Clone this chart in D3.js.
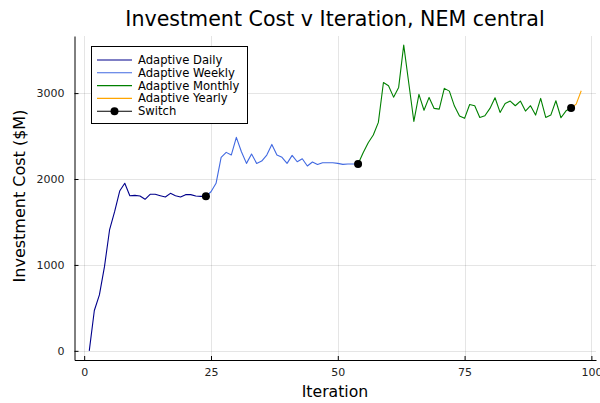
<!DOCTYPE html>
<html>
<head>
<meta charset="utf-8">
<script src="https://cdn.jsdelivr.net/npm/d3@7"></script>
<style>
  html, body { margin: 0; padding: 0; background: #fff; }
  svg { display: block; font-family: "DejaVu Sans", sans-serif; }
</style>
</head>
<body>
<svg id="chart" width="600" height="403"></svg>
<script>
// Investment cost ($M) per iteration, iterations 1..98
const iterations = d3.range(1, 99);
const cost = [
  0, 469, 651, 980, 1407, 1620, 1860, 1950, 1806, 1810,
  1802, 1764, 1822, 1822, 1806, 1790, 1833, 1806, 1790, 1818,
  1818, 1802, 1798, 1798, 1852, 1950, 2252, 2310, 2279, 2485,
  2317, 2182, 2290, 2182, 2209, 2279, 2403, 2279, 2252, 2182,
  2275, 2201, 2236, 2151, 2198, 2170, 2190, 2190, 2190, 2182,
  2170, 2174, 2174, 2174, 2306, 2422, 2512, 2659, 3124, 3085,
  2953, 3066, 3558, 3115, 2670, 2986, 2800, 2950, 2822, 2814,
  3055, 3023, 2849, 2733, 2706, 2868, 2853, 2717, 2736, 2822,
  2946, 2775, 2880, 2907, 2853, 2907, 2791, 2853, 2744, 2938,
  2717, 2744, 2911, 2713, 2794, 2826, 2872, 3027
];

// Adaptive phases: name, first and last iteration, colour
const phaseNames  = ["Adaptive Daily", "Adaptive Weekly", "Adaptive Monthly", "Adaptive Yearly"];
const phaseStart  = [1, 24, 54, 96];
const phaseEnd    = [24, 54, 96, 98];
const phaseColors = ["#00008b", "#4169e1", "#008000", "#ffa500"];

// Iterations at which the resolution was switched
const switchIters = [24, 54, 96];

const xTicks = [0, 25, 50, 75, 100];
const yTicks = [0, 1000, 2000, 3000];

const svg = d3.select("#chart");
const plotLeft = 74.5, plotRight = 596, plotTop = 36, plotBottom = 360;

const xMin = 1, xMax = 98;
const xPad = (xMax - xMin) * 0.03;
const x = d3.scaleLinear().domain([xMin - xPad, xMax + xPad]).range([plotLeft, plotRight]);

const yMin = d3.min(cost), yMax = d3.max(cost);
const yPad = (yMax - yMin) * 0.03;
const y = d3.scaleLinear().domain([yMin - yPad, yMax + yPad]).range([plotBottom, plotTop]);

// grid
const grid = svg.append("g").attr("stroke", "#000").attr("stroke-opacity", 0.1).attr("stroke-width", 1);
xTicks.forEach(t => grid.append("line")
  .attr("x1", Math.round(x(t)) + 0.5).attr("x2", Math.round(x(t)) + 0.5)
  .attr("y1", plotTop).attr("y2", plotBottom));
yTicks.forEach(t => grid.append("line")
  .attr("x1", plotLeft).attr("x2", plotRight)
  .attr("y1", Math.round(y(t)) + 0.5).attr("y2", Math.round(y(t)) + 0.5));

// axes with inward ticks
const xAxis = d3.axisBottom(x).tickValues(xTicks).tickFormat(d3.format("d"))
  .tickSizeInner(-4).tickSizeOuter(0).tickPadding(8);
const yAxis = d3.axisLeft(y).tickValues(yTicks).tickFormat(d3.format("d"))
  .tickSizeInner(-4).tickSizeOuter(0).tickPadding(10);

const gx = svg.append("g").attr("transform", `translate(0,${plotBottom})`).call(xAxis);
const gy = svg.append("g").attr("transform", `translate(${plotLeft},0)`).call(yAxis);
[gx, gy].forEach(g => {
  g.select(".domain").attr("stroke", "#000").attr("stroke-width", 1);
  g.selectAll(".tick line").attr("stroke", "#000");
  g.selectAll(".tick text").attr("font-size", 11).attr("fill", "#222")
    .attr("font-family", "DejaVu Sans, sans-serif");
});

// phase lines
const line = d3.line().x(d => x(d[0])).y(d => y(d[1]));
phaseNames.forEach((name, i) => {
  const pts = iterations
    .map((it, k) => [it, cost[k]])
    .filter(d => d[0] >= phaseStart[i] && d[0] <= phaseEnd[i]);
  svg.append("path")
    .datum(pts)
    .attr("d", line)
    .attr("fill", "none")
    .attr("stroke", phaseColors[i])
    .attr("stroke-width", 1.1)
    .attr("stroke-linejoin", "round");
});

// switch markers
svg.append("g").selectAll("circle")
  .data(switchIters)
  .join("circle")
  .attr("cx", d => x(d))
  .attr("cy", d => y(cost[iterations.indexOf(d)]))
  .attr("r", 4)
  .attr("fill", "#000");

// title and axis labels
svg.append("text")
  .attr("x", 335).attr("y", 26)
  .attr("text-anchor", "middle")
  .attr("font-size", 20.6)
  .attr("fill", "#000")
  .text("Investment Cost v Iteration, NEM central");

svg.append("text")
  .attr("x", 335).attr("y", 397)
  .attr("text-anchor", "middle")
  .attr("font-size", 15.7)
  .text("Iteration");

svg.append("text")
  .attr("transform", "translate(25,196) rotate(-90)")
  .attr("text-anchor", "middle")
  .attr("font-size", 16)
  .text("Investment Cost ($M)");

// legend
const lg = svg.append("g");
const lgX = 91, lgY = 46, lgW = 156, lgH = 77, rowH = 12.8;
lg.append("rect")
  .attr("x", lgX + 0.5).attr("y", lgY + 0.5)
  .attr("width", lgW).attr("height", lgH)
  .attr("fill", "#fff").attr("stroke", "#000").attr("stroke-width", 1);

const legendNames = phaseNames.concat(["Switch"]);
const legendColors = phaseColors.concat(["#000"]);
legendNames.forEach((name, i) => {
  const cy = lgY + 14 + i * rowH;
  lg.append("line")
    .attr("x1", lgX + 6).attr("x2", lgX + 41)
    .attr("y1", cy).attr("y2", cy)
    .attr("stroke", legendColors[i]).attr("stroke-width", 1.1);
  if (name === "Switch") {
    lg.append("circle").attr("cx", lgX + 23.5).attr("cy", cy).attr("r", 4).attr("fill", "#000");
  }
  lg.append("text")
    .attr("x", lgX + 47).attr("y", cy + 4)
    .attr("font-size", 11.6)
    .text(name);
});
</script>
</body>
</html>
